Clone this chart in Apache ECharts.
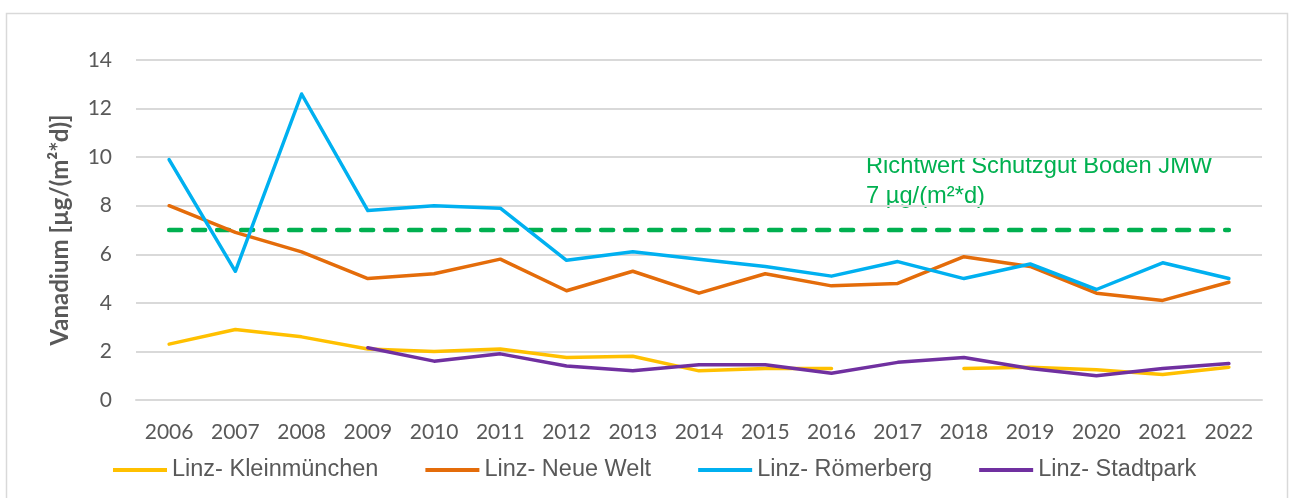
<!DOCTYPE html>
<html>
<head>
<meta charset="utf-8">
<script src="https://cdn.jsdelivr.net/npm/echarts@6/dist/echarts.min.js"></script>
<style>
  html, body { margin: 0; padding: 0; background: #ffffff; }
  #chart { width: 1292px; height: 498px; }
</style>
</head>
<body>
<div id="chart"></div>
<script>
// Vanadium deposition at Linz measuring stations, annual means
const years = ['2006','2007','2008','2009','2010','2011','2012','2013','2014','2015','2016','2017','2018','2019','2020','2021','2022'];

const kleinmuenchen = [2.3, 2.9, 2.6, 2.1, 2.0, 2.1, 1.75, 1.8, 1.2, 1.3, 1.3, null, 1.3, 1.35, 1.25, 1.05, 1.35];
const neueWelt      = [8.0, 6.9, 6.1, 5.0, 5.2, 5.8, 4.5, 5.3, 4.4, 5.2, 4.7, 4.8, 5.9, 5.5, 4.4, 4.1, 4.85];
const roemerberg    = [9.9, 5.3, 12.6, 7.8, 8.0, 7.9, 5.75, 6.1, 5.8, 5.5, 5.1, 5.7, 5.0, 5.6, 4.55, 5.65, 5.0];
const stadtpark     = [null, null, null, 2.15, 1.6, 1.9, 1.4, 1.2, 1.45, 1.45, 1.1, 1.55, 1.75, 1.3, 1.0, 1.3, 1.5];

// Guide value for soil protection (annual mean)
const richtwert = 7;
const richtwertLine = years.map(() => richtwert);

const seriesNames = ['Linz- Kleinmünchen', 'Linz- Neue Welt', 'Linz- Römerberg', 'Linz- Stadtpark'];
const seriesColors = ['#FFC000', '#E46C0A', '#00B0F0', '#7030A0'];
const seriesData = [kleinmuenchen, neueWelt, roemerberg, stadtpark];

const tickFont = 'Lato, "Open Sans", sans-serif';
const textFont = '"Liberation Sans", Arial, sans-serif';
const gray = '#595959';
const green = '#00B050';

const chart = echarts.init(document.getElementById('chart'), null, { renderer: 'canvas' });

const lineSeries = seriesData.map((d, i) => ({
  name: seriesNames[i],
  type: 'line',
  data: d,
  showSymbol: false,
  symbol: 'none',
  connectNulls: false,
  z: 3,
  lineStyle: { color: seriesColors[i], width: 3.5, cap: 'round', join: 'round' },
  itemStyle: { color: seriesColors[i] }
}));

chart.setOption({
  animation: false,
  backgroundColor: '#ffffff',
  grid: { left: 136, right: 30, top: 60, bottom: 98 },
  legend: {
    data: seriesNames,
    left: 108,
    top: 453,
    itemWidth: 54,
    itemHeight: 4,
    itemGap: 47,
    icon: 'rect',
    textStyle: { fontFamily: textFont, fontSize: 23.5, color: gray }
  },
  xAxis: {
    type: 'category',
    data: years,
    boundaryGap: true,
    axisLine: { show: true, lineStyle: { color: '#d9d9d9', width: 2 } },
    axisTick: { show: false },
    axisLabel: { fontFamily: tickFont, fontSize: 21, color: gray, margin: 22 },
    splitLine: { show: false }
  },
  yAxis: {
    type: 'value',
    min: 0,
    max: 14,
    interval: 2,
    name: 'Vanadium [µg/(m²*d)]',
    nameLocation: 'middle',
    nameRotate: 90,
    nameGap: 64,
    nameTextStyle: { fontFamily: tickFont, fontSize: 24, fontWeight: 'bold', color: gray },
    axisLine: { show: false },
    axisTick: { show: false },
    axisLabel: { fontFamily: tickFont, fontSize: 21, color: gray, margin: 24 },
    splitLine: { show: true, lineStyle: { color: '#d9d9d9', width: 2 } }
  },
  series: [
    {
      name: 'Richtwert',
      type: 'line',
      data: richtwertLine,
      showSymbol: false,
      symbol: 'none',
      z: 2,
      silent: true,
      lineStyle: { color: green, width: 4.5, type: [12, 12], cap: 'round' }
    }
  ].concat(lineSeries),
  graphic: [
    {
      type: 'rect',
      shape: { x: 6.5, y: 13.5, width: 1281, height: 500 },
      style: { fill: 'none', stroke: '#d9d9d9', lineWidth: 1.5 },
      silent: true,
      z: -10
    },
    {
      type: 'text',
      left: 866,
      top: 151,
      style: {
        text: 'Richtwert Schutzgut Boden JMW\n7 µg/(m²*d)',
        fontFamily: textFont,
        fontSize: 23.7,
        lineHeight: 30,
        fill: green
      }
    }
  ]
});
</script>
</body>
</html>
